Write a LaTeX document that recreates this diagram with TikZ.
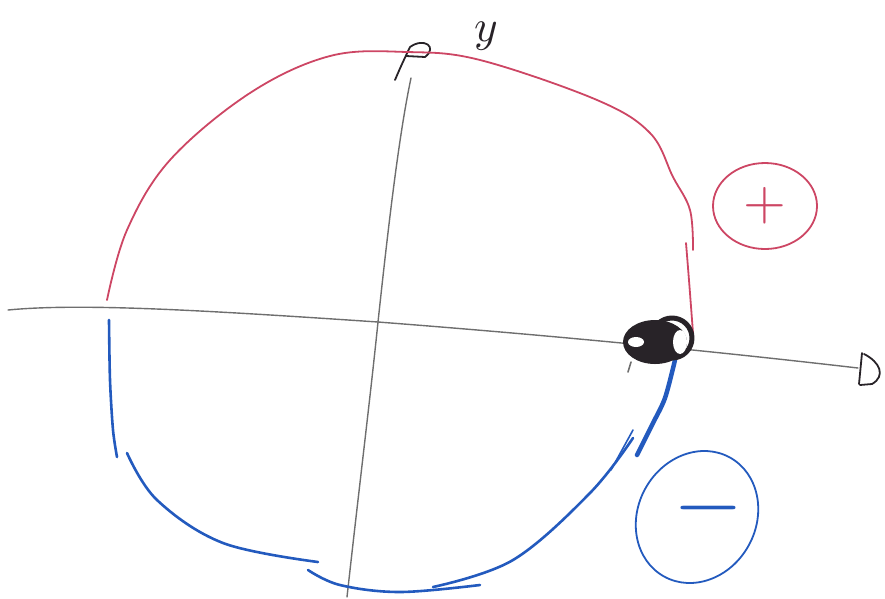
\documentclass[tikz,border=0pt]{standalone}
\usepackage{tikz}
\usetikzlibrary{shapes.geometric,positioning}
\definecolor{penred}{RGB}{205,70,100}
\definecolor{penblue}{RGB}{35,90,190}
\definecolor{pengray}{RGB}{110,110,110}
\definecolor{penblack}{RGB}{40,35,40}

\begin{document}
\begin{tikzpicture}[x=1pt,y=-1pt,line cap=round,line join=round,
  axisline/.style={pengray,line width=1.4pt},
  poscurve/.style={penred,line width=1.8pt},
  negcurve/.style={penblue,line width=2.6pt},
  ring/.style={draw=#1,ellipse,line width=1.8pt,inner sep=0pt}]
\useasboundingbox (0,0) rectangle (885,598);
% axes
\draw[axisline] (8,310) .. controls (80,303) and (200,310) .. (378,322) .. controls (560,336) and (720,352) .. (858,368);
\draw[axisline] (347,597) .. controls (360,480) and (370,400) .. (378,322) .. controls (390,210) and (400,130) .. (411,78);
\draw[penblack,line width=1.8pt] (862,353) -- (859,384) (864,354) .. controls (880,362) and (886,376) .. (872,384) -- (860,385);
\draw[penblack,line width=1.8pt] (395,80) .. controls (401,66) .. (410,47) .. controls (424,37) and (438,47) .. (425,57) -- (406,56);
\node[penblack,scale=4.5] (ylabel) at (486,36) {$y$};
% upper half
\draw[poscurve] plot[smooth,tension=0.6] coordinates {(107,300) (127,230) (170,160) (250,93) (330,56) (407,52) (480,60) (597,100) (650,133) (673,177) (690,210) (693,250)};
\draw[poscurve] (686,243) .. controls (689,280) .. (693,333);
% lower half
\draw[negcurve] plot[smooth] coordinates {(109,320) (110,380) (113,430) (117,457)};
\draw[negcurve] plot[smooth,tension=0.6] coordinates {(127,453) (157,500) (223,543) (318,562)};
\draw[negcurve] plot[smooth,tension=0.6] coordinates {(308,570) (340,585) (400,592) (480,585)};
\draw[negcurve] plot[smooth,tension=0.6] coordinates {(433,587) (513,560) (590,493) (633,438)};
\draw[penblue,line width=1.6pt] (611,470) -- (633,430);
\draw[negcurve,line width=4.5pt] plot[smooth] coordinates {(637,455) (652,425) (665,398) (675,360)};
% pole
\fill[penblack] (655,342) ellipse [x radius=32, y radius=22];
\draw[penblack,line width=5pt] (672,338) circle [radius=20];
\fill[white] (680,342) ellipse [x radius=7, y radius=12];
\fill[white] (636,342) ellipse [x radius=8, y radius=5];
\draw[pengray,line width=1.6pt] (631,362) -- (628,372);
% signs
\node[ring=penred,minimum width=104,minimum height=86] (posring) at (765,206) {};
\node[penred,scale=5.5] (possign) at (posring.center) {$+$};
\node[ring=penblue,minimum width=136,minimum height=118,rotate=61] (negring) at (697,517) {};
\node[penblue,scale=9] (negsign) at (708,508) {$-$};
\end{tikzpicture}
\end{document}
